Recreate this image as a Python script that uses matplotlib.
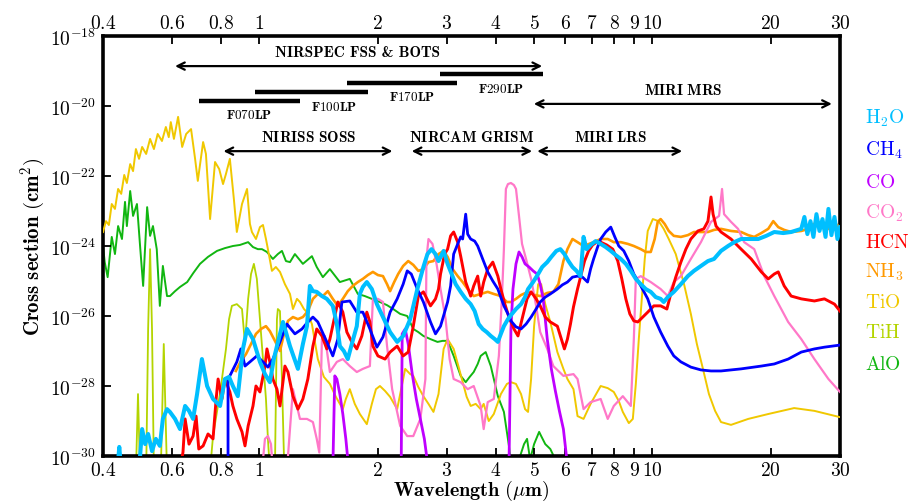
import numpy as np
import matplotlib
matplotlib.use("Agg")
import matplotlib.pyplot as plt
from matplotlib.ticker import FixedLocator, FixedFormatter, NullLocator

plt.rcParams['mathtext.fontset'] = 'cm'

# Cross sections: wavelength (um) and log10 of cross section (cm^2)
h2o_wl = [0.435, 0.440, 0.445, 0.491, 0.497, 0.503, 0.512, 0.521, 0.533, 0.545, 0.558, 0.568, 0.582,
          0.592, 0.610, 0.628, 0.647, 0.662, 0.678, 0.694, 0.714, 0.736, 0.762, 0.794, 0.817, 0.837, 0.856,
          0.881, 0.908, 0.930, 0.963, 1.003, 1.033, 1.063, 1.088, 1.108, 1.148, 1.196, 1.253, 1.290, 1.321,
          1.344, 1.368, 1.399, 1.442, 1.484, 1.537, 1.574, 1.602, 1.640, 1.678, 1.718, 1.769, 1.801, 1.833,
          1.876, 1.932, 1.990, 2.062, 2.150, 2.241, 2.321, 2.419, 2.522, 2.613, 2.676,
          2.740, 2.805, 2.855,
          2.942, 3.011, 3.083, 3.157, 3.251, 3.348, 3.447, 3.529, 3.613, 3.698, 3.787, 3.878, 3.970, 4.042, 4.114,
          4.188, 4.288, 4.390, 4.495, 4.630, 4.740, 4.824, 4.969, 5.118, 5.241, 5.399, 5.529, 5.694, 5.830, 5.969,
          6.112, 6.258, 6.408, 6.561, 6.678, 6.797, 6.958, 7.167, 7.382, 7.603, 7.832, 8.063, 8.306, 8.554, 8.808,
          9.070, 9.338, 9.614, 9.899, 10.19, 10.49, 10.68, 10.94, 11.33, 11.81, 12.30, 12.75, 13.28, 13.84, 14.34,
          14.94, 15.57, 16.14, 16.81, 17.62, 18.58, 19.47, 20.41, 21.51, 22.53, 23.91, 24.35, 24.78, 25.23, 25.67,
          26.13, 26.60, 27.07, 27.56, 28.03, 28.53, 29.04, 29.55, 30.0]
h2o_lg = [-30.4, -29.74, -30.4, -30.4, -30.0, -29.23, -29.66, -29.37, -29.86, -29.51, -29.71, -28.94, -28.66,
          -28.74, -28.94, -29.23, -28.57, -28.71, -28.94, -28.23, -27.23, -28.0, -28.37, -28.57, -27.8, -27.74, -28.0,
          -28.29, -26.94, -26.37, -26.66, -27.31, -27.66, -27.89, -27.23, -26.86, -26.17, -26.86, -27.51, -26.8, -26.29,
          -25.14, -25.29, -25.31, -25.43, -25.51, -25.71, -26.23, -26.86, -27.0, -27.23, -26.8, -26.29, -25.37, -25.17,
          -25.03, -25.23, -25.66, -26.03, -26.46, -26.74, -26.57, -26.09, -25.23, -24.6, -24.23,
          -24.09, -24.23, -24.43,
          -24.14, -24.51, -24.8, -25.09, -25.31, -25.51, -25.66, -25.86, -26.23, -26.37, -26.46, -26.57, -26.66, -26.74, -26.51,
          -26.29, -26.09, -25.94, -25.8, -25.66, -25.46, -25.23, -25.03, -24.8, -24.6, -24.46, -24.31, -24.14, -24.09, -24.23,
          -24.43, -24.6, -24.71, -24.86, -23.74, -24.09, -23.97, -23.86, -23.94, -24.03, -24.14, -24.26, -24.37, -24.51, -24.71,
          -24.94, -25.09, -25.23, -25.31, -25.46, -25.51, -25.6, -25.46, -25.31, -25.09, -24.86, -24.71, -24.57, -24.43, -24.37,
          -24.14, -24.0, -23.89, -23.8, -23.8, -23.8, -23.71, -23.6, -23.63, -23.6, -23.51, -23.17, -23.66, -23.29, -23.74,
          -23.09, -23.57, -23.23, -23.74, -22.94, -23.69, -23.17, -23.8, -23.46]

ch4_wl = [0.832, 0.832, 0.841, 0.876, 0.897, 0.919, 0.946, 0.985, 1.021, 1.051, 1.082, 1.128, 1.175, 1.231,
          1.283, 1.321, 1.368, 1.408, 1.484, 1.537, 1.583, 1.621, 1.698, 1.769, 1.833, 1.910, 1.990, 2.062,
          2.150, 2.241, 2.321, 2.377, 2.434, 2.522, 2.613, 2.724, 2.805, 2.889, 3.011, 3.065, 3.120,
          3.195, 3.251, 3.289, 3.348, 3.387, 3.447, 3.529, 3.592, 3.698, 3.809, 3.924,
          4.042, 4.188, 4.288, 4.364, 4.495, 4.630, 4.768, 4.911, 5.058, 5.180, 5.336, 5.496, 5.728, 5.899, 6.076,
          6.258, 6.446, 6.639, 6.837, 6.958, 7.083, 7.250, 7.382, 7.603, 7.832, 8.019, 8.209, 8.453, 8.706, 8.965,
          9.338, 9.726, 10.08, 10.49, 10.94, 11.33, 11.81, 12.52, 13.28, 14.09, 14.94, 16.81, 18.92, 20.41, 22.14,
          23.91, 25.82, 27.38, 30.0]
ch4_lg = [-30.4, -27.8, -27.71, -27.31, -26.94, -27.43, -27.31, -27.14, -27.31, -27.46, -27.23, -26.74, -26.23, -26.51,
          -26.37, -26.2, -26.03, -26.17, -26.74, -27.14, -26.66, -25.6, -25.57, -25.89, -25.89, -26.37, -26.89, -26.6,
          -25.89, -25.51, -25.09, -24.71, -24.8, -25.23, -25.6, -26.17, -26.51, -26.29, -25.6, -25.14, -24.23,
          -23.94, -23.74, -23.8, -23.09, -23.66, -23.8, -23.86, -24.0, -24.37, -24.74, -25.0,
          -25.23, -25.71, -25.94, -26.14, -26.31, -26.37, -26.23, -26.03, -25.8, -25.6, -25.46, -25.37, -25.23, -25.11, -25.03,
          -24.89, -24.86, -24.89, -25.03, -24.66, -24.37, -24.03, -23.8, -23.6, -23.46, -23.74, -24.0, -24.14, -24.43, -24.8,
          -25.14, -25.51, -26.03, -26.46, -26.86, -27.14, -27.31, -27.46, -27.54, -27.57, -27.57, -27.51, -27.43, -27.37, -27.23,
          -27.03, -26.94, -26.89, -26.83]

co_wl = [1.537, 1.555, 1.574, 1.602, 1.630, 1.659, 1.688, 2.294, 2.308, 2.349, 2.391, 2.448, 2.507, 2.567, 2.628,
         2.692, 4.313, 4.364, 4.416, 4.495, 4.575, 4.657, 4.740, 4.853, 4.969, 5.088, 5.180, 5.272, 5.399, 5.529,
         5.661, 5.796, 5.934, 6.040, 6.076]
co_lg = [-30.4, -27.71, -27.8, -28.23, -28.8, -29.51, -30.4, -30.4, -26.51, -26.37, -26.8, -27.66, -28.37, -28.94, -29.51,
         -30.4, -30.4, -26.37, -25.23, -24.51, -24.17, -24.31, -24.51, -24.6, -24.71, -24.8, -25.09, -25.51, -26.66, -27.51,
         -28.14, -28.71, -29.23, -30.0, -30.4]

co2_wl = [1.015, 1.033, 1.051, 1.070, 1.082, 1.175, 1.196, 1.217, 1.268, 1.321, 1.368, 1.399, 1.420, 1.442, 1.467,
          1.511, 1.574, 1.630, 1.698, 1.769, 1.833, 1.910, 1.944, 2.002, 2.062, 2.112, 2.176, 2.281, 2.377, 2.463,
          2.567, 2.644,
          2.660, 2.692, 2.756,
          2.822, 2.889, 2.976, 3.047, 3.120, 3.251, 3.387, 3.509, 3.655, 3.720, 3.809, 3.947, 4.066, 4.138, 4.188,
          4.237, 4.288, 4.364, 4.442, 4.495, 4.575, 4.657, 4.768, 4.911, 5.058, 5.180, 5.399, 5.594, 5.934, 6.295,
          6.446, 6.678, 6.958, 7.382, 7.694, 7.972, 8.404, 8.808, 8.965, 9.070, 9.338, 9.899, 10.49, 10.94, 11.33,
          11.81, 12.52, 13.28, 14.09, 14.77, 15.03, 15.21, 15.84, 16.51, 17.11, 18.15, 19.24, 20.41, 21.26, 22.14,
          23.91, 25.82, 28.03, 30.0]
co2_lg = [-30.4, -29.51, -29.43, -29.66, -30.4, -30.4, -29.23, -28.09, -28.94, -28.94, -29.03, -29.51, -29.9, -26.66, -26.57,
          -27.6, -27.31, -27.23, -27.43, -27.6, -27.51, -27.43, -25.51, -25.51, -25.6, -26.86, -28.09, -29.14, -29.43, -29.43,
          -28.94, -27.8,
          -24.37, -23.8, -23.94,
          -24.51, -25.23, -26.09, -27.23, -27.8, -27.89, -28.09, -28.0, -28.57, -29.23, -28.46, -28.37, -27.14, -25.51, -24.09,
          -22.37, -22.23, -22.2, -22.26, -22.37, -23.14, -23.94, -24.37, -24.94, -25.71, -26.46, -26.94, -27.43, -27.71, -27.66,
          -27.8, -28.66, -28.46, -28.37, -28.94, -28.57, -28.29, -28.57, -26.66, -24.94, -24.86, -25.03, -25.23, -25.43, -25.03,
          -24.86, -24.37, -23.89, -23.31, -23.14, -22.37, -23.09, -23.31, -23.51, -23.89, -24.09, -24.86, -25.43, -25.8, -26.17,
          -26.66, -27.23, -27.8, -28.17]

hcn_wl = [0.628, 0.639, 0.647, 0.662, 0.678, 0.690, 0.701, 0.719, 0.740, 0.762, 0.776, 0.785, 0.803, 0.817, 0.841,
          0.856, 0.876, 0.903, 0.919, 0.936, 0.963, 0.980, 1.003, 1.033, 1.045, 1.063, 1.082, 1.108, 1.128, 1.161,
          1.182, 1.217, 1.253, 1.290, 1.328, 1.368, 1.399, 1.442, 1.484, 1.511, 1.555, 1.583, 1.630, 1.669, 1.718,
          1.769, 1.822, 1.876, 1.910, 1.944, 2.002, 2.087, 2.150, 2.241, 2.321, 2.391, 2.463, 2.537, 2.613, 2.724,
          2.805, 2.855,
          2.889, 2.959, 3.011, 3.065, 3.120, 3.195, 3.251, 3.348, 3.447, 3.509, 3.592, 3.655, 3.720, 3.809, 3.924,
          4.042, 4.114, 4.212, 4.313, 4.442, 4.548, 4.657, 4.796, 4.911, 5.058, 5.180, 5.336, 5.496, 5.728, 5.864,
          5.969, 6.076, 6.185, 6.295, 6.446, 6.561, 6.717, 6.877, 7.041, 7.208, 7.382, 7.648, 7.925, 8.161, 8.355,
          8.554, 8.757, 8.965, 9.177, 9.447, 9.726, 10.08, 10.49, 10.88, 11.13, 11.46, 11.81, 12.16, 12.52, 13.05,
          13.51, 13.84, 14.09, 14.26, 14.51, 14.94, 15.84, 16.81, 17.83, 18.92, 19.70, 20.41, 20.89, 21.63, 22.53,
          23.91, 25.82, 27.38, 29.04, 30.0]
hcn_lg = [-30.4, -29.89, -28.94, -29.66, -29.43, -28.86, -29.8, -29.71, -29.37, -29.51, -28.37, -27.8, -28.37, -27.8, -28.17,
          -28.57, -28.94, -29.31, -29.71, -29.14, -28.57, -28.0, -28.17, -27.43, -26.94, -27.31, -27.8, -28.09, -28.57, -27.43,
          -27.6, -28.29, -28.66, -28.37, -27.8, -26.86, -26.37, -26.57, -26.94, -26.66, -26.0, -25.6, -25.89, -26.46, -26.74,
          -26.94, -26.57, -25.89, -26.17, -26.86, -27.14, -27.23, -27.03, -26.86, -27.14, -27.03, -26.29, -25.43, -25.31, -25.71,
          -25.51, -25.23,
          -24.8, -24.23, -24.09, -23.71, -23.6, -23.89, -24.29, -25.03, -25.43, -25.14, -24.86, -25.43, -25.03, -24.66, -24.46,
          -24.86, -25.23, -25.66, -26.03, -26.37, -26.57, -26.09, -25.51, -25.31, -25.51, -25.71, -26.03, -26.17, -26.29, -26.66,
          -26.94, -26.66, -26.23, -25.74, -25.23, -24.89, -24.43, -24.14, -23.97, -23.89, -23.89, -23.97, -24.09, -24.43, -24.94,
          -25.51, -25.94, -26.14, -26.17, -26.03, -25.89, -25.71, -25.71, -25.8, -25.37, -24.89, -24.46, -24.09, -23.8, -23.57,
          -23.51, -23.29, -22.6, -23.09, -23.43, -23.6, -23.8, -24.09, -24.37, -24.74, -24.94, -24.8, -24.74, -25.14, -25.43,
          -25.51, -25.57, -25.51, -25.66, -25.86]

nh3_wl = [0.871, 0.897, 0.924, 0.952, 0.980, 1.009, 1.039, 1.063, 1.095, 1.128, 1.155, 1.182, 1.217, 1.253, 1.290,
          1.328, 1.368, 1.408, 1.450, 1.493, 1.537, 1.583, 1.630, 1.678, 1.728, 1.780, 1.833, 1.887, 1.944, 2.002,
          2.062, 2.112, 2.150, 2.202, 2.254, 2.321, 2.391, 2.463, 2.537, 2.613, 2.692, 2.772, 2.855, 2.942, 3.011,
          3.101, 3.195, 3.289, 3.387, 3.509, 3.655, 3.809, 3.947, 4.114, 4.262, 4.364, 4.495, 4.630, 4.824, 5.028,
          5.180, 5.399, 5.594, 5.762, 5.934, 6.076, 6.258, 6.446, 6.678, 7.083, 7.382, 7.694, 7.972, 8.306, 8.655,
          8.965, 9.338, 9.614, 9.899, 10.13, 10.31, 10.49, 10.74, 11.00, 11.33, 11.81, 12.30, 12.75, 13.28, 13.84,
          14.34, 14.94, 15.84, 16.81, 17.52, 18.15, 18.92, 19.70, 20.29, 20.89, 21.63, 22.53, 23.91, 24.92, 25.67,
          26.43, 27.22, 28.03, 28.87, 29.55, 30.0]
nh3_lg = [-27.57, -27.29, -27.09, -26.8, -26.51, -26.37, -26.29, -26.43, -26.71, -27.0, -26.51, -26.14, -26.03, -26.09, -26.03,
          -25.86, -25.51, -25.37, -25.43, -25.29, -25.51, -25.71, -25.51, -25.29, -25.14, -25.03, -24.94, -24.83, -24.74, -24.83,
          -24.86, -25.09, -25.29, -25.03, -24.8, -24.57, -24.43, -24.54, -24.71, -24.66, -24.46, -24.43, -24.23, -24.14, -24.31,
          -24.66, -24.86, -25.03, -25.23, -25.43, -25.37, -25.31, -25.37, -25.43, -25.6, -25.6, -25.51, -25.4, -25.31, -25.4,
          -25.43, -25.34, -25.31, -25.09, -24.43, -24.09, -23.8, -23.89, -24.0, -23.89, -23.8, -23.8, -23.89, -23.89, -23.94,
          -24.0, -24.09, -24.17, -24.17, -23.8, -23.31, -23.23, -23.37, -23.57, -23.71, -23.74, -23.69, -23.6, -23.6, -23.6,
          -23.54, -23.51, -23.57, -23.6, -23.69, -23.74, -23.63, -23.51, -23.29, -23.46, -23.54, -23.6, -23.57, -23.51, -23.37,
          -23.43, -23.49, -23.51, -23.37, -23.4, -23.57]

tio_wl = [0.400, 0.407, 0.414, 0.421, 0.429, 0.437, 0.445, 0.453, 0.460, 0.469, 0.477, 0.485, 0.494, 0.503, 0.515,
          0.527, 0.539, 0.551, 0.565, 0.578, 0.588, 0.595, 0.606, 0.621, 0.636, 0.651, 0.670, 0.686, 0.697, 0.719,
          0.731, 0.749, 0.771, 0.790, 0.808, 0.822, 0.841, 0.861, 0.876, 0.903, 0.930, 0.946, 0.957, 0.980, 1.003,
          1.021, 1.039, 1.051, 1.076, 1.101, 1.128, 1.161, 1.196, 1.217, 1.246, 1.268, 1.298, 1.321, 1.360, 1.408,
          1.459, 1.511, 1.565, 1.630, 1.659, 1.698, 1.748, 1.801, 1.876, 1.932, 1.979, 2.026, 2.087, 2.150, 2.241,
          2.294, 2.349, 2.419, 2.463, 2.537, 2.613, 2.692, 2.772, 2.855, 2.942, 3.011, 3.120, 3.213, 3.289, 3.367,
          3.447, 3.550, 3.655, 3.720, 3.787, 3.832, 3.947, 4.114, 4.262, 4.364, 4.495, 4.630, 4.740, 4.824, 4.911,
          4.998, 5.118, 5.210, 5.336, 5.496, 5.728, 5.934, 6.076, 6.295, 6.446, 6.678, 6.958, 7.382, 7.694, 7.972,
          8.209, 8.404, 8.706, 8.912, 9.070, 9.230, 9.392, 9.557, 9.726, 10.02, 10.37, 10.68, 11.00, 11.46, 12.03,
          12.52, 12.97, 13.44, 13.92, 14.43, 14.94, 15.84, 17.52, 19.70, 22.93, 25.82, 30.0]
tio_lg = [-23.6, -23.29, -23.4, -22.8, -22.94, -22.37, -22.51, -21.97, -22.2, -21.66, -21.86, -21.23, -21.51, -21.17, -21.37,
          -20.94, -21.23, -20.8, -21.0, -20.6, -20.89, -20.46, -20.94, -20.31, -21.17, -20.8, -20.66, -21.51, -22.14, -21.03,
          -21.37, -23.23, -21.6, -21.8, -22.23, -21.94, -21.51, -22.66, -23.6, -22.8, -22.37, -23.37, -23.6, -23.8, -23.46,
          -23.4, -23.8, -24.09, -24.71, -24.6, -24.74, -25.09, -25.37, -25.8, -25.51, -25.6, -25.8, -25.89, -26.23, -27.23,
          -27.74, -27.94, -28.31, -28.66, -28.37, -28.09, -28.51, -28.8, -29.09, -28.51, -28.09, -28.0, -28.14, -28.31, -28.66,
          -28.09, -27.51, -27.66, -27.71, -28.03, -28.29, -28.51, -28.74, -28.23, -26.94, -26.66, -26.94, -27.46, -27.89, -28.31,
          -28.57, -28.51, -28.66, -28.51, -28.8, -29.0, -28.8, -28.23, -27.94, -27.89, -27.94, -28.23, -28.66, -28.74, -27.8,
          -26.29, -25.09, -25.09, -25.66, -26.17, -27.03, -27.51, -27.8, -28.09, -28.86, -28.94, -28.51, -28.0, -28.06, -28.17,
          -28.43, -28.74, -29.06, -28.94, -27.94, -26.66, -25.51, -24.37, -23.57, -23.23, -23.29, -23.51, -23.8, -24.23, -25.09,
          -25.94, -26.8, -27.51, -28.23, -28.71, -29.03, -29.11, -28.94, -28.8, -28.63, -28.71, -28.89]

tih_wl = [0.485, 0.491, 0.497, 0.515, 0.521, 0.527, 0.533, 0.539, 0.561, 0.571, 0.582, 0.749, 0.762, 0.794,
          0.822, 0.837, 0.851, 0.876, 0.903, 0.919, 0.936, 0.952, 0.968, 0.985, 1.003, 1.021, 1.039, 1.051,
          1.063, 1.095, 1.108, 1.114, 1.128, 1.141, 1.155, 1.161]
tih_lg = [-30.5, -28.23, -30.5, -30.5, -26.37, -24.09, -26.37, -30.5, -30.5, -26.8, -30.5, -30.4, -29.43, -28.2,
          -26.94, -26.09, -25.71, -25.66, -25.8, -26.8, -25.51, -24.8, -24.51, -24.94, -26.09, -27.23, -28.37, -29.51,
          -30.4, -30.4, -26.09, -25.8, -25.86, -27.8, -30.1, -30.4]

alo_wl = [0.400, 0.404, 0.411, 0.421, 0.429, 0.437, 0.447, 0.455, 0.460, 0.469, 0.477, 0.488, 0.497, 0.506, 0.518,
          0.527, 0.536, 0.548, 0.558, 0.568, 0.582, 0.592, 0.610, 0.628, 0.655, 0.679, 0.706, 0.740, 0.780, 0.817,
          0.856, 0.892, 0.936, 0.963, 0.991, 1.015, 1.045, 1.082, 1.114, 1.141, 1.168, 1.196, 1.231, 1.290, 1.360,
          1.399, 1.450, 1.511, 1.602, 1.698, 1.780, 1.854, 1.932, 2.026, 2.112, 2.189, 2.281, 2.377, 2.463, 2.537,
          2.613, 2.724, 2.838, 2.924, 3.011, 3.120, 3.251, 3.348, 3.427, 3.509, 3.592, 3.655, 3.764, 3.878, 4.042,
          4.188, 4.313, 4.364, 4.470, 4.575, 4.712, 4.796, 4.882, 4.998, 5.148, 5.210, 5.336, 5.496, 5.661]
alo_lg = [-24.0, -24.46, -24.89, -23.74, -24.23, -23.43, -23.8, -22.74, -23.43, -22.43, -23.14, -22.8, -24.0, -25.14, -22.89,
          -23.71, -23.43, -24.09, -25.71, -24.57, -25.43, -25.43, -25.29, -25.17, -25.03, -24.77, -24.51, -24.31, -24.14, -24.06,
          -24.0, -23.97, -23.89, -24.03, -24.09, -24.09, -24.17, -24.37, -24.23, -24.14, -24.43, -24.46, -24.23, -24.51, -24.29,
          -24.6, -24.89, -24.66, -25.03, -24.94, -25.37, -25.43, -25.51, -25.6, -25.69, -25.8, -25.94, -26.0, -26.37, -26.46,
          -26.57, -26.66, -26.74, -26.71, -26.71, -27.14, -27.71, -27.89, -27.74, -27.6, -27.37, -27.14, -27.03, -27.43, -28.29,
          -28.74, -29.71, -30.23, -30.6, -30.1, -29.66, -29.51, -30.1, -29.66, -29.31, -29.43, -29.66, -29.8, -30.1]

species = ['H_2O', 'CH_4', 'CO', 'CO_2', 'HCN', 'NH_3', 'TiO', 'TiH', 'AlO']
colors = ['#00bfff', '#0000ff', '#bf00ff', '#ff78c8', '#ff0000', '#ff9900', '#f0c800', '#b4d400', '#11b611']
widths = [2.9, 2.0, 2.0, 1.6, 2.1, 1.9, 1.4, 1.3, 1.4]
series = [(h2o_wl, h2o_lg), (ch4_wl, ch4_lg), (co_wl, co_lg), (co2_wl, co2_lg), (hcn_wl, hcn_lg),
          (nh3_wl, nh3_lg), (tio_wl, tio_lg), (tih_wl, tih_lg), (alo_wl, alo_lg)]
zorders = [9, 8, 6, 5, 7, 4, 3, 2, 1]

xticks = [0.4, 0.6, 0.8, 1, 2, 3, 4, 5, 6, 7, 8, 9, 10, 20, 30]
xticklabels = ['0.4', '0.6', '0.8', '1', '2', '3', '4', '5', '6', '7', '8', '9', '10', '20', '30']
yexp = [-18, -20, -22, -24, -26, -28, -30]

fig = plt.figure(figsize=(9.1, 5.02), dpi=100)
ax = fig.add_axes([0.1132, 0.0896, 0.8099, 0.8367])

for (wl, lg), c, lw, z in zip(series, colors, widths, zorders):
    ax.plot(wl, 10.0 ** np.array(lg), color=c, lw=lw, zorder=z)

ax.set_xscale('log')
ax.set_yscale('log')
ax.set_xlim(0.4, 30)
ax.set_ylim(1e-30, 1e-18)

ax.xaxis.set_major_locator(FixedLocator(xticks))
ax.xaxis.set_major_formatter(FixedFormatter([r'$\mathbf{%s}$' % t for t in xticklabels]))
ax.xaxis.set_minor_locator(NullLocator())
ax.yaxis.set_major_locator(FixedLocator([10.0 ** e for e in yexp]))
ax.yaxis.set_major_formatter(FixedFormatter([r'$\mathbf{10^{%d}}$' % e for e in yexp]))
ax.yaxis.set_minor_locator(NullLocator())
ax.tick_params(axis='both', which='major', direction='in', length=6, width=1.3, labelsize=14,
               top=True, labeltop=True, right=False)
ax.tick_params(axis='x', pad=3)
ax.tick_params(axis='y', pad=5)
for sp in ax.spines.values():
    sp.set_linewidth(2.6)

ax.set_xlabel(r'$\mathbf{Wavelength\ (}\mu\mathbf{m)}$', fontsize=14.5, labelpad=-1)
ax.set_ylabel(r'$\mathbf{Cross\ section\ (cm^2)}$', fontsize=15, labelpad=2)

# instrument coverage
arr = dict(arrowstyle='<->', lw=1.6, color='black', mutation_scale=13, shrinkA=0, shrinkB=0)
ax.annotate('', xy=(0.61, 10 ** -18.86), xytext=(5.24, 10 ** -18.86), arrowprops=arr)
ax.text(1.78, 10 ** -18.46, 'NIRSPEC FSS & BOTS', family='cmb10', ha='center', va='center', fontsize=11)
ax.annotate('', xy=(4.99, 10 ** -19.94), xytext=(28.6, 10 ** -19.94), arrowprops=arr)
ax.text(12.0, 10 ** -19.54, r'$\mathbf{MIRI\ MRS}$', ha='center', va='center', fontsize=11)
ax.annotate('', xy=(0.81, 10 ** -21.29), xytext=(2.18, 10 ** -21.29), arrowprops=arr)
ax.text(1.33, 10 ** -20.86, r'$\mathbf{NIRISS\ SOSS}$', ha='center', va='center', fontsize=11)
ax.annotate('', xy=(2.44, 10 ** -21.29), xytext=(4.94, 10 ** -21.29), arrowprops=arr)
ax.text(3.47, 10 ** -20.86, r'$\mathbf{NIRCAM\ GRISM}$', ha='center', va='center', fontsize=11)
ax.annotate('', xy=(5.09, 10 ** -21.29), xytext=(11.9, 10 ** -21.29), arrowprops=arr)
ax.text(7.83, 10 ** -20.86, r'$\mathbf{MIRI\ LRS}$', ha='center', va='center', fontsize=11)

# NIRSpec filter ranges
filters = [('F070LP', 0.70, 1.27, -19.86, 0.94, -20.23),
           ('F100LP', 0.975, 1.89, -19.6, 1.55, -20.0),
           ('F170LP', 1.67, 3.18, -19.34, 2.45, -19.74),
           ('F290LP', 2.88, 5.27, -19.09, 4.11, -19.49)]
for name, lo, hi, yb, xt, yt in filters:
    ax.plot([lo, hi], [10 ** yb, 10 ** yb], color='black', lw=3.2, solid_capstyle='butt')
    ax.text(xt, 10 ** yt, r'$\mathbf{%s}$' % name, ha='center', va='center', fontsize=9.5)

# species labels at the right
label_y = [118, 150, 183, 213, 243, 272, 303, 333, 364]
for name, c, yp in zip(species, colors, label_y):
    fig.text(865 / 910, 1 - yp / 502, r'$\mathrm{%s}$' % name, color=c, fontsize=14, ha='left', va='center')

fig.savefig('out.png', dpi=100)
